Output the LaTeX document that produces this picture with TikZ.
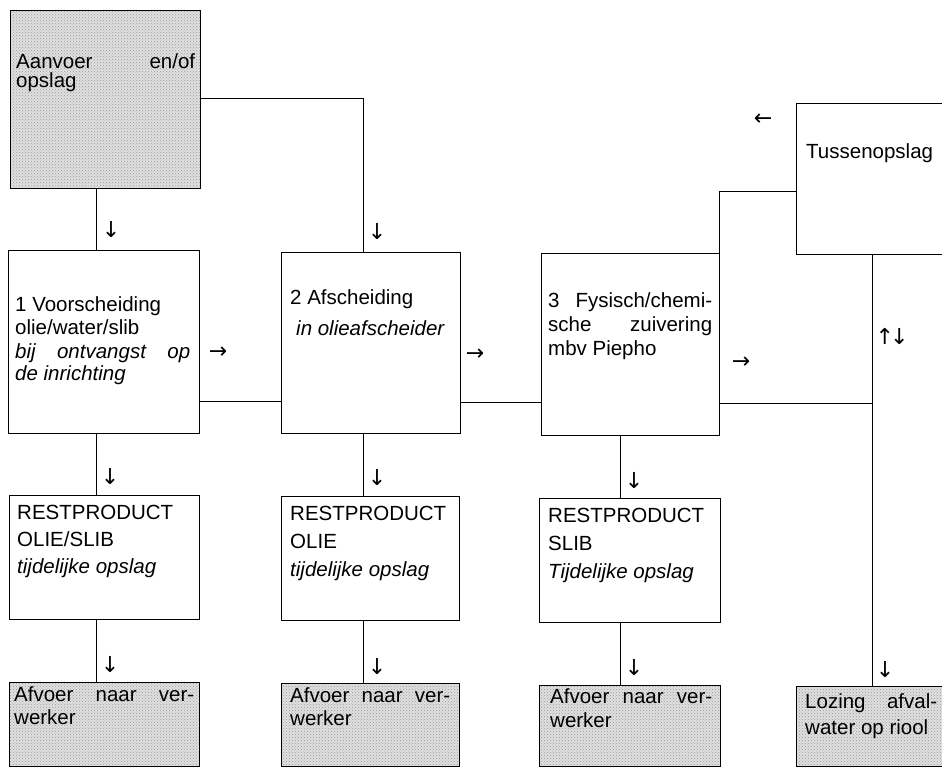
\documentclass[tikz,border=0pt]{standalone}
\usepackage{fontspec}
\setmainfont{Liberation Sans}
\newfontfamily\arrowfont{DejaVu Sans}
\usetikzlibrary{patterns}
\begin{document}
\begin{tikzpicture}[x=1pt,y=-1pt,
  box/.style={draw, line width=0.9pt, inner sep=0pt, outer sep=0pt, anchor=north west},
  shaded/.style={box, preaction={fill=black!12}, pattern=crosshatch dots, pattern color=black!40},
  txt/.style={anchor=base west, inner sep=0pt, font=\fontsize{20.5}{24}\selectfont},
  itxt/.style={anchor=base west, inner sep=0pt, font=\fontsize{20.5}{24}\selectfont\itshape},
  arr/.style={inner sep=0pt, font=\arrowfont\fontsize{22}{22}\selectfont},
  conn/.style={line width=0.9pt}]
\path[use as bounding box, clip] (0,0) rectangle (942,769);
\fill[white] (0,0) rectangle (942,769);

% boxes
\node[shaded, minimum width=190pt, minimum height=178pt] (aan) at (10,10) {};
\node[box, minimum width=191pt, minimum height=183pt] (b1) at (8,250) {};
\node[box, minimum width=179pt, minimum height=181pt] (b2) at (281,252) {};
\node[box, minimum width=178pt, minimum height=182pt] (b3) at (541,253) {};
\node[box, minimum width=170pt, minimum height=151pt] (tus) at (796,103) {};
\node[box, minimum width=190pt, minimum height=124pt] (r1) at (9,495) {};
\node[box, minimum width=178pt, minimum height=124pt] (r2) at (281,496) {};
\node[box, minimum width=181pt, minimum height=124pt] (r3) at (539,498) {};
\node[shaded, minimum width=190pt, minimum height=84pt] (a1) at (9,682) {};
\node[shaded, minimum width=178pt, minimum height=83pt] (a2) at (281,683) {};
\node[shaded, minimum width=181pt, minimum height=81pt] (a3) at (539,685) {};
\node[shaded, minimum width=170pt, minimum height=80pt] (loz) at (796,686) {};

% texts
\node[txt] (taan1) at (16,68) {\makebox[179pt][s]{Aanvoer en/of}};
\node[txt] (taan2) at (16,87) {opslag};

\node[txt] (tb11) at (15,311) {1 Voorscheiding};
\node[txt] (tb12) at (15,334) {olie/water/slib};
\node[itxt] (tb13) at (15,358) {\makebox[175pt][s]{bij ontvangst op}};
\node[itxt] (tb14) at (15,380) {de inrichting};

\node[txt] (tb21) at (290,304) {2 Afscheiding};
\node[itxt] (tb22) at (296,335) {in olieafscheider};

\node[txt] (tb31) at (548,307) {\makebox[164pt][s]{3 Fysisch/chemi-}};
\node[txt] (tb32) at (548,331) {\makebox[164pt][s]{sche zuivering}};
\node[txt] (tb33) at (548,355) {mbv Piepho};

\node[txt] (ttus) at (806,158) {Tussenopslag};

\node[txt] (tr11) at (17,519) {RESTPRODUCT};
\node[txt] (tr12) at (17,546) {OLIE/SLIB};
\node[itxt] (tr13) at (17,573) {tijdelijke opslag};

\node[txt] (tr21) at (290,520) {RESTPRODUCT};
\node[txt] (tr22) at (290,548) {OLIE};
\node[itxt] (tr23) at (290,576) {tijdelijke opslag};

\node[txt] (tr31) at (548,522) {RESTPRODUCT};
\node[txt] (tr32) at (548,550) {SLIB};
\node[itxt] (tr33) at (548,578) {Tijdelijke opslag};

\node[txt] (ta11) at (14,701) {\makebox[180pt][s]{Afvoer naar ver-}};
\node[txt] (ta12) at (14,724) {werker};
\node[txt] (ta21) at (290,702) {\makebox[160pt][s]{Afvoer naar ver-}};
\node[txt] (ta22) at (290,725) {werker};
\node[txt] (ta31) at (550,703) {\makebox[162pt][s]{Afvoer naar ver-}};
\node[txt] (ta32) at (550,727) {werker};
\node[txt] (tloz1) at (805,708) {\makebox[132pt][s]{Lozing afval-}};
\node[txt] (tloz2) at (805,734) {water op riool};

% helper coordinates
\coordinate (x1) at (96,0);
\coordinate (x2) at (363,0);
\coordinate (x3) at (620,0);
\coordinate (x4) at (872,0);
\coordinate (yA) at (0,98);
\coordinate (yT) at (0,191);
\coordinate (y12) at (0,401);
\coordinate (y23) at (0,402);
\coordinate (y3) at (0,403);
\coordinate (j4) at (872,403);

% connectors
\draw[conn] (aan.south -| x1) -- (b1.north -| x1);
\draw[conn] (aan.east |- yA) -| (b2.north -| x2);
\draw[conn] (b1.east |- y12) -- (b2.west |- y12);
\draw[conn] (b2.east |- y23) -- (b3.west |- y23);
\draw[conn] (b3.east |- y3) -- (j4);
\draw[conn] (tus.west |- yT) -| (b3.north east);
\draw[conn] (tus.south -| x4) -- (loz.north -| x4);
\draw[conn] (b1.south -| x1) -- (r1.north -| x1);
\draw[conn] (r1.south -| x1) -- (a1.north -| x1);
\draw[conn] (b2.south -| x2) -- (r2.north -| x2);
\draw[conn] (r2.south -| x2) -- (a2.north -| x2);
\draw[conn] (b3.south -| x3) -- (r3.north -| x3);
\draw[conn] (r3.south -| x3) -- (a3.north -| x3);

% arrow glyphs
\node[arr] (g1) at (111,230) {↓};
\node[arr] (g2) at (377,232) {↓};
\node[arr] (g3) at (218,353) {→};
\node[arr] (g4) at (475,355) {→};
\node[arr] (g5) at (741,363) {→};
\node[arr] (g6) at (763,120) {←};
\node[arr] (g7) at (892,336) {↑\kern-4pt↓};
\node[arr] (g8) at (110,477) {↓};
\node[arr] (g9) at (110,665) {↓};
\node[arr] (g10) at (377,478) {↓};
\node[arr] (g11) at (377,667) {↓};
\node[arr] (g12) at (634,481) {↓};
\node[arr] (g13) at (634,668) {↓};
\node[arr] (g14) at (885,670) {↓};
\end{tikzpicture}
\end{document}
